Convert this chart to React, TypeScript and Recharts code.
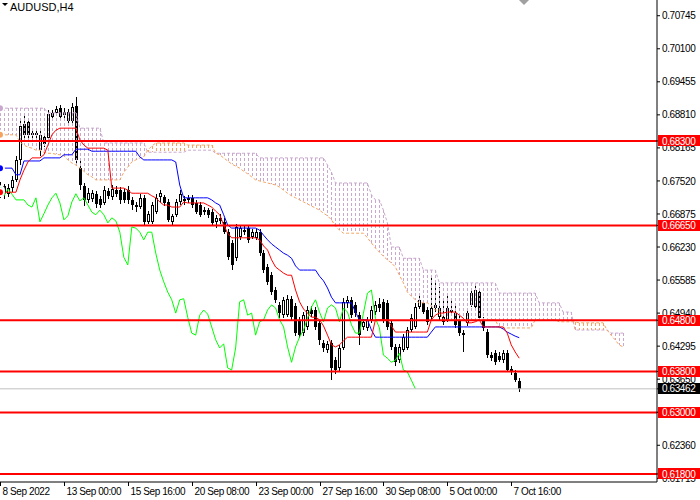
import { ComposedChart, Bar, Line, XAxis, YAxis, ReferenceLine } from 'recharts';

const WIDTH = 700;
const HEIGHT = 500;
const SLOTS = 165; // 131 H4 bars + 26 bars of forward cloud + empty space up to the price scale
const SHIFT = 26;
const Y_MIN = 0.61643;
const Y_MAX = 0.71052;
const FONT = '"Liberation Sans", Arial, sans-serif';
const THISTLE = '#c9a8ce';
const SANDY = '#f4a460';

const dateLabels = [
    '8 Sep 2022',
    '13 Sep 00:00',
    '15 Sep 16:00',
    '20 Sep 08:00',
    '23 Sep 00:00',
    '27 Sep 16:00',
    '30 Sep 08:00',
    '5 Oct 00:00',
    '7 Oct 16:00',
];

const priceTicks = [
    0.70745, 0.701, 0.69455, 0.6881, 0.68165, 0.6752, 0.66875, 0.6623, 0.65585, 0.6494, 0.64295,
    0.6365, 0.63005, 0.6236, 0.61715,
];
const levels = [0.683, 0.6665, 0.648, 0.638, 0.63, 0.618];
const lastPrice = 0.63462;

// AUDUSD H4 candles, 8 Sep 08:00 .. 10 Oct 00:00
const opens = [
    0.673, 0.6742, 0.6726, 0.6738, 0.6754, 0.6793, 0.6863, 0.6867, 0.6842, 0.6846,
    0.6812, 0.6838, 0.6836, 0.6877, 0.6885, 0.6894, 0.6881, 0.6869, 0.6869, 0.6898,
    0.6777, 0.6742, 0.6715, 0.6717, 0.6726, 0.6717, 0.6709, 0.6732, 0.6721, 0.6734,
    0.6734, 0.673, 0.6734, 0.6715, 0.6705, 0.6701, 0.6719, 0.6672, 0.6672, 0.6691,
    0.6721, 0.6721, 0.6711, 0.6672, 0.6686, 0.6711, 0.6717, 0.6715, 0.6719, 0.6709,
    0.6705, 0.6691, 0.6695, 0.6691, 0.6672, 0.668, 0.6672, 0.6652, 0.6631, 0.6601,
    0.6642, 0.6656, 0.666, 0.6642, 0.6641, 0.6652, 0.6611, 0.6584, 0.6568, 0.6539,
    0.651, 0.649, 0.649, 0.6522, 0.6508, 0.6481, 0.6455, 0.6467, 0.65, 0.65,
    0.6475, 0.6436, 0.6422, 0.6436, 0.6402, 0.6387, 0.6426, 0.6514, 0.652, 0.651,
    0.649, 0.6467, 0.6465, 0.6481, 0.6496, 0.6512, 0.6516, 0.6514, 0.6475, 0.6428,
    0.6402, 0.6422, 0.6426, 0.6461, 0.6467, 0.6506, 0.6514, 0.65, 0.6486, 0.6504,
    0.6486, 0.6486, 0.6481, 0.65, 0.6494, 0.6481, 0.6451, 0.6475, 0.651, 0.6506,
    0.6535, 0.6481, 0.6457, 0.6412, 0.6416, 0.641, 0.6402, 0.6416, 0.6385, 0.6377,
    0.6361,
];
const highs = [
    0.675, 0.6746, 0.6746, 0.6762, 0.6801, 0.6875, 0.6879, 0.6873, 0.6851, 0.6851,
    0.6849, 0.6844, 0.689, 0.689, 0.6898, 0.69, 0.6894, 0.6892, 0.6904, 0.6916,
    0.6793, 0.6748, 0.6738, 0.6734, 0.6732, 0.6723, 0.6742, 0.6738, 0.6744, 0.6742,
    0.674, 0.6736, 0.6742, 0.6721, 0.6711, 0.6727, 0.6725, 0.6693, 0.6711, 0.6727,
    0.6734, 0.6725, 0.6717, 0.6688, 0.6717, 0.6734, 0.6723, 0.6725, 0.6725, 0.6715,
    0.6711, 0.6701, 0.6699, 0.6697, 0.6686, 0.6688, 0.668, 0.6658, 0.6637, 0.6668,
    0.6666, 0.6664, 0.6666, 0.6658, 0.6658, 0.6658, 0.6617, 0.659, 0.6574, 0.6545,
    0.6516, 0.6525, 0.6529, 0.6527, 0.6514, 0.6486, 0.6496, 0.6508, 0.6508, 0.6506,
    0.6481, 0.6442, 0.644, 0.6442, 0.6408, 0.6432, 0.6524, 0.6527, 0.6525, 0.6516,
    0.6496, 0.6483, 0.6486, 0.6508, 0.6518, 0.6524, 0.6522, 0.652, 0.6481, 0.6434,
    0.6434, 0.6453, 0.6467, 0.6492, 0.6514, 0.6527, 0.652, 0.6506, 0.6564, 0.6555,
    0.6545, 0.6524, 0.6529, 0.6524, 0.651, 0.6488, 0.6461, 0.65, 0.6539, 0.6549,
    0.6543, 0.6486, 0.6463, 0.6418, 0.6422, 0.6418, 0.6422, 0.6422, 0.6391, 0.6383,
    0.6367,
];
const lows = [
    0.6719, 0.6717, 0.6721, 0.673, 0.675, 0.6783, 0.6834, 0.6836, 0.6836, 0.6828,
    0.6801, 0.6818, 0.6832, 0.6871, 0.6881, 0.6871, 0.6875, 0.6863, 0.6865, 0.6781,
    0.6734, 0.6703, 0.6709, 0.6711, 0.6699, 0.6699, 0.6705, 0.6717, 0.6715, 0.6721,
    0.6707, 0.6709, 0.6707, 0.6695, 0.6691, 0.6697, 0.6666, 0.6668, 0.6668, 0.6688,
    0.6709, 0.6703, 0.6672, 0.6666, 0.6682, 0.6705, 0.6705, 0.6709, 0.6699, 0.6688,
    0.6682, 0.6686, 0.668, 0.6664, 0.666, 0.6668, 0.6648, 0.6598, 0.6578, 0.6596,
    0.6637, 0.6646, 0.6631, 0.6639, 0.6637, 0.6605, 0.6572, 0.6549, 0.6529, 0.6514,
    0.6484, 0.6484, 0.6486, 0.6481, 0.6449, 0.6445, 0.6449, 0.6461, 0.6486, 0.6461,
    0.6432, 0.6418, 0.6416, 0.6363, 0.6375, 0.6379, 0.6422, 0.6504, 0.6484, 0.6486,
    0.6432, 0.6461, 0.6459, 0.6475, 0.649, 0.6496, 0.6475, 0.6461, 0.6422, 0.6391,
    0.6396, 0.6418, 0.6422, 0.6457, 0.6463, 0.6502, 0.6492, 0.6471, 0.6481, 0.6496,
    0.6481, 0.6471, 0.6477, 0.649, 0.6465, 0.6449, 0.6418, 0.6469, 0.6506, 0.6502,
    0.6481, 0.6459, 0.6406, 0.64, 0.6393, 0.6398, 0.6396, 0.6379, 0.6373, 0.6359,
    0.634,
];
const closes = [
    0.6742, 0.6726, 0.6738, 0.6754, 0.6793, 0.6859, 0.6842, 0.6842, 0.6846, 0.6842,
    0.6842, 0.6824, 0.6883, 0.6885, 0.6892, 0.6877, 0.6887, 0.6887, 0.6896, 0.6793,
    0.6744, 0.6715, 0.6728, 0.6728, 0.6707, 0.6705, 0.6734, 0.6723, 0.6736, 0.6726,
    0.6715, 0.6715, 0.6715, 0.6705, 0.6701, 0.6719, 0.6672, 0.6688, 0.6705, 0.6719,
    0.6728, 0.6709, 0.6676, 0.6684, 0.6711, 0.6727, 0.6713, 0.6719, 0.6705, 0.6691,
    0.6686, 0.6695, 0.6686, 0.667, 0.668, 0.6674, 0.6652, 0.6603, 0.6588, 0.6662,
    0.666, 0.6652, 0.6637, 0.6652, 0.6652, 0.6611, 0.6578, 0.6555, 0.6535, 0.652,
    0.6494, 0.652, 0.6522, 0.6486, 0.6455, 0.6451, 0.649, 0.65, 0.6492, 0.6467,
    0.6442, 0.6426, 0.6434, 0.6387, 0.6383, 0.6426, 0.6516, 0.652, 0.649, 0.6494,
    0.6451, 0.6477, 0.6481, 0.65, 0.651, 0.6504, 0.6481, 0.6467, 0.6428, 0.6398,
    0.6428, 0.6447, 0.6461, 0.6484, 0.6506, 0.652, 0.6496, 0.6477, 0.6504, 0.651,
    0.6504, 0.6477, 0.6504, 0.6496, 0.6471, 0.6455, 0.6455, 0.6494, 0.6533, 0.6539,
    0.6484, 0.6465, 0.6412, 0.6406, 0.6398, 0.6402, 0.6416, 0.6383, 0.6379, 0.6363,
    0.63462,
];

// Ichimoku
const tenkan = [
    0.673, 0.673, 0.673, 0.673, 0.673, 0.6754, 0.6773, 0.6789, 0.6797, 0.6797,
    0.6797, 0.6803, 0.6822, 0.6842, 0.6851, 0.6855, 0.6855, 0.6855, 0.6855, 0.6855,
    0.6832, 0.6822, 0.6816, 0.6816, 0.6816, 0.6816, 0.6816, 0.6812, 0.6738, 0.6738,
    0.6738, 0.6738, 0.6734, 0.6728, 0.6728, 0.6728, 0.6728, 0.6728, 0.6723, 0.6719,
    0.6711, 0.6705, 0.6705, 0.6701, 0.6701, 0.6701, 0.6711, 0.6709, 0.6709, 0.6709,
    0.6709, 0.6709, 0.6705, 0.6701, 0.6693, 0.6686, 0.6666, 0.665, 0.6641, 0.6641,
    0.6641, 0.6641, 0.6641, 0.6641, 0.6641, 0.6637, 0.6625, 0.6617, 0.6598, 0.6584,
    0.6578, 0.6572, 0.6568, 0.6568, 0.6539, 0.6516, 0.6502, 0.6494, 0.6486, 0.6486,
    0.6481, 0.6469, 0.6451, 0.6432, 0.6428, 0.6432, 0.644, 0.6447, 0.6447, 0.6447,
    0.6447, 0.6447, 0.6447, 0.6447, 0.6481, 0.6481, 0.6481, 0.6481, 0.6469, 0.6457,
    0.6457, 0.6457, 0.6457, 0.6457, 0.6457, 0.6457, 0.6457, 0.6457, 0.6481, 0.649,
    0.6494, 0.6494, 0.6496, 0.6496, 0.6496, 0.649, 0.6484, 0.6475, 0.6475, 0.6477,
    0.6481, 0.6467, 0.6467, 0.6467, 0.6467, 0.6467, 0.6467, 0.6455, 0.6432, 0.6418,
    0.6406,
];
const kijun = [
    0.6777, 0.6777, 0.6777, 0.6777, 0.6764, 0.6764, 0.6791, 0.6791, 0.6791, 0.6791,
    0.6791, 0.6797, 0.6797, 0.6797, 0.6797, 0.6797, 0.6803, 0.6803, 0.6803, 0.6814,
    0.6814, 0.6814, 0.6814, 0.681, 0.681, 0.681, 0.681, 0.681, 0.681, 0.681,
    0.681, 0.681, 0.681, 0.681, 0.681, 0.6799, 0.6793, 0.6793, 0.6793, 0.6793,
    0.6793, 0.6793, 0.6793, 0.6793, 0.6789, 0.6744, 0.6719, 0.6719, 0.6719, 0.6719,
    0.6719, 0.6719, 0.6719, 0.6715, 0.6709, 0.6705, 0.6686, 0.6666, 0.666, 0.666,
    0.666, 0.666, 0.666, 0.666, 0.666, 0.6656, 0.6646, 0.6637, 0.6629, 0.6623,
    0.6617, 0.6611, 0.6607, 0.6601, 0.6586, 0.6578, 0.6578, 0.6578, 0.6578, 0.6578,
    0.6566, 0.6557, 0.6543, 0.6525, 0.6514, 0.6514, 0.6514, 0.6514, 0.6514, 0.6496,
    0.6481, 0.6481, 0.6481, 0.6461, 0.6447, 0.6447, 0.6447, 0.6447, 0.6447, 0.6447,
    0.6447, 0.6447, 0.6447, 0.6447, 0.6447, 0.6447, 0.6447, 0.6447, 0.6457, 0.6467,
    0.6467, 0.6467, 0.6467, 0.6467, 0.6467, 0.6467, 0.6467, 0.6467, 0.6467, 0.6467,
    0.6467, 0.6467, 0.6467, 0.6467, 0.6467, 0.6467, 0.6463, 0.6457, 0.6453, 0.6449,
    0.6446,
];
const spanA = [
    0.6842, 0.6842, 0.6842, 0.6842, 0.6842, 0.6828, 0.6822, 0.6818, 0.6816, 0.6812,
    0.6812, 0.6808, 0.6806, 0.6806, 0.6804, 0.6803, 0.6801, 0.6793, 0.6787, 0.6783,
    0.6777, 0.6771, 0.6764, 0.676, 0.6754, 0.6754, 0.6754, 0.6754, 0.6754, 0.6754,
    0.6754, 0.6769, 0.6779, 0.6789, 0.6793, 0.6797, 0.6799, 0.6812, 0.682, 0.6826,
    0.6826, 0.6826, 0.6826, 0.6826, 0.6826, 0.6826, 0.6826, 0.6822, 0.6822, 0.6822,
    0.6822, 0.6822, 0.6822, 0.6822, 0.6806, 0.6803, 0.6797, 0.6791, 0.6785, 0.6781,
    0.6777, 0.6771, 0.6766, 0.676, 0.6754, 0.6752, 0.675, 0.6748, 0.6746, 0.6744,
    0.674, 0.6734, 0.6728, 0.6723, 0.6719, 0.6715, 0.6711, 0.6707, 0.6703, 0.6699,
    0.6695, 0.6689, 0.6684, 0.6676, 0.6664, 0.6656, 0.665, 0.665, 0.665, 0.665,
    0.665, 0.665, 0.6641, 0.6631, 0.6621, 0.6613, 0.6605, 0.6598, 0.6592, 0.6584,
    0.6568, 0.6553, 0.6535, 0.6527, 0.652, 0.6514, 0.6514, 0.6514, 0.6508, 0.65,
    0.65, 0.6481, 0.6481, 0.6481, 0.6481, 0.6481, 0.6481, 0.6481, 0.6481, 0.6481,
    0.6481, 0.6481, 0.6481, 0.6481, 0.6481, 0.6465, 0.6465, 0.6465, 0.6465, 0.6465,
    0.6465, 0.6465, 0.6465, 0.6465, 0.6481, 0.6481, 0.6481, 0.6481, 0.6481, 0.6481,
    0.6477, 0.6477, 0.6477, 0.6477, 0.6477, 0.6475, 0.6475, 0.6475, 0.6475, 0.6475,
    0.6475, 0.6475, 0.6461, 0.6451, 0.6442, 0.6432, 0.6428,
];
const spanB = [
    0.6894, 0.6894, 0.6894, 0.6894, 0.6894, 0.6894, 0.6894, 0.6894, 0.6894, 0.6894,
    0.6894, 0.6894, 0.6885, 0.6885, 0.6885, 0.6885, 0.6885, 0.6885, 0.6885, 0.6885,
    0.6855, 0.6855, 0.6855, 0.6855, 0.6855, 0.6855, 0.6826, 0.6826, 0.6826, 0.6826,
    0.6826, 0.6826, 0.6826, 0.6826, 0.6826, 0.6826, 0.6826, 0.6808, 0.6808, 0.6808,
    0.6808, 0.6808, 0.6808, 0.6808, 0.6808, 0.6808, 0.6808, 0.6812, 0.6812, 0.6812,
    0.6812, 0.6812, 0.6812, 0.6812, 0.6806, 0.6806, 0.6806, 0.6806, 0.6806, 0.6806,
    0.6806, 0.6806, 0.6806, 0.6806, 0.6806, 0.6797, 0.6797, 0.6797, 0.6797, 0.6797,
    0.6797, 0.6797, 0.6797, 0.6797, 0.6797, 0.6797, 0.6797, 0.6797, 0.6797, 0.6797,
    0.6797, 0.6797, 0.6783, 0.6769, 0.6748, 0.6748, 0.6748, 0.6748, 0.6748, 0.6748,
    0.6748, 0.6748, 0.6748, 0.6725, 0.6715, 0.6715, 0.6695, 0.667, 0.6623, 0.6623,
    0.6623, 0.6601, 0.6601, 0.6601, 0.6601, 0.6601, 0.6578, 0.6578, 0.6578, 0.6578,
    0.6553, 0.6553, 0.6553, 0.6553, 0.6553, 0.6553, 0.6553, 0.6553, 0.6553, 0.6553,
    0.6553, 0.6553, 0.6553, 0.6553, 0.6553, 0.6533, 0.6533, 0.6533, 0.6533, 0.6533,
    0.6533, 0.6533, 0.6533, 0.6533, 0.6533, 0.6514, 0.6514, 0.6514, 0.6514, 0.6514,
    0.6514, 0.6496, 0.6496, 0.6496, 0.6461, 0.6461, 0.6461, 0.6461, 0.6461, 0.6461,
    0.6461, 0.6461, 0.6461, 0.6455, 0.6455, 0.6455, 0.6455,
];

const rows = Array.from({ length: SLOTS }, (_, i) => {
    // eslint-disable-next-line @typescript-eslint/no-explicit-any
    const row: any = { i };
    if (i < closes.length) {
        row.o = opens[i];
        row.c = closes[i];
        row.candle = [lows[i], highs[i]];
        row.tenkan = tenkan[i];
        row.kijun = kijun[i];
    }
    if (i + SHIFT < closes.length) row.chikou = closes[i + SHIFT];
    if (i < spanA.length) {
        row.spanA = spanA[i];
        row.spanB = spanB[i];
        if (spanA[i] !== spanB[i]) {
            row.cloud = [Math.min(spanA[i], spanB[i]), Math.max(spanA[i], spanB[i])];
        }
    }
    return row;
});

// eslint-disable-next-line @typescript-eslint/no-explicit-any
function Candle(props: any) {
    const { x, width, payload } = props;
    if (!payload || payload.candle == null) return null;
    let { y, height } = props;
    if (height < 0) {
        y += height;
        height = -height;
    }
    const [lo, hi] = payload.candle;
    const k = hi > lo ? height / (hi - lo) : 0;
    const cx = Math.round(x + width / 2);
    const top = Math.round(y + (hi - Math.max(payload.o, payload.c)) * k);
    const bot = Math.round(y + (hi - Math.min(payload.o, payload.c)) * k);
    const bh = Math.max(1, bot - top);
    const up = payload.c > payload.o;
    return (
        <g shapeRendering="crispEdges">
            <line x1={cx + 0.5} x2={cx + 0.5} y1={y} y2={y + height} stroke="#000" />
            {up ? (
                <rect x={cx - 0.5} y={top + 0.5} width={2} height={Math.max(1, bh - 1)} fill="#fff" stroke="#000" />
            ) : (
                <rect x={cx - 1} y={top} width={3} height={bh} fill="#000" />
            )}
        </g>
    );
}

// the cloud is hatched with one dotted line per bar, drawn over the candles as the terminal does
// eslint-disable-next-line @typescript-eslint/no-explicit-any
function Hatch(props: any) {
    const { x, y, width, height, payload } = props;
    if (!payload || payload.cloud == null) return null;
    const cx = Math.round(x + width / 2) + 0.5;
    const color = payload.spanA > payload.spanB ? SANDY : THISTLE;
    return (
        <line
            x1={cx}
            x2={cx}
            y1={Math.round(y)}
            y2={Math.round(y + Math.abs(height))}
            stroke={color}
            strokeDasharray="3 2"
            shapeRendering="crispEdges"
        />
    );
}

// eslint-disable-next-line @typescript-eslint/no-explicit-any
function PriceTick(props: any) {
    const { x, y, payload } = props;
    const v = payload.value as number;
    const text = v.toFixed(5);
    const isLevel = levels.includes(v);
    const isLast = v === lastPrice;
    if (isLevel || isLast) {
        return (
            <g>
                <rect
                    x={x - 4}
                    y={y - 5.5}
                    width={44}
                    height={11}
                    fill={isLast ? '#000' : '#ff0000'}
                    shapeRendering="crispEdges"
                />
                <text x={x} y={y} dy={3.6} fill="#fff" fontSize={10} fontFamily={FONT} letterSpacing={-0.4}>
                    {text}
                </text>
            </g>
        );
    }
    return (
        <text x={x} y={y} dy={3.6} fill="#000" fontSize={10} fontFamily={FONT} letterSpacing={-0.4}>
            {text}
        </text>
    );
}

// eslint-disable-next-line @typescript-eslint/no-explicit-any
function DateTick(props: any) {
    const { x, y, payload } = props;
    const label = dateLabels[Number(payload.value) / 16];
    if (!label) return null;
    const tx = Math.round(x) + 0.5;
    return (
        <g>
            <line x1={tx} x2={tx} y1={y} y2={y + 4} stroke="#000" shapeRendering="crispEdges" />
            <text x={tx + 2} y={y + 12.5} fill="#000" fontSize={10} fontFamily={FONT} letterSpacing={-0.4}>
                {label}
            </text>
        </g>
    );
}

export default function App() {
    return (
        <div style={{ position: 'absolute', left: 0, top: 0, width: WIDTH, height: HEIGHT, background: '#fff' }}>
            <ComposedChart
                width={WIDTH}
                height={HEIGHT}
                data={rows}
                margin={{ top: 0, right: 0, bottom: 0, left: -2 }}
            >
                <XAxis
                    dataKey="i"
                    type="category"
                    interval={15}
                    height={18}
                    tickLine={false}
                    tickSize={0}
                    tickMargin={0}
                    axisLine={{ stroke: '#000' }}
                    tick={DateTick}
                />
                <XAxis xAxisId="cloud" dataKey="i" type="category" hide />
                <YAxis
                    orientation="right"
                    type="number"
                    width={43}
                    domain={[Y_MIN, Y_MAX]}
                    allowDataOverflow
                    ticks={[...priceTicks, ...levels, lastPrice]}
                    interval={0}
                    tickSize={3}
                    tickMargin={2}
                    axisLine={{ stroke: '#000' }}
                    tickLine={{ stroke: '#000' }}
                    tick={PriceTick}
                />
                <Bar dataKey="candle" shape={Candle} isAnimationActive={false} />
                <Bar xAxisId="cloud" dataKey="cloud" shape={Hatch} isAnimationActive={false} />
                <Line
                    dataKey="spanB"
                    stroke={THISTLE}
                    strokeDasharray="3 2"
                    strokeWidth={1}
                    dot={false}
                    isAnimationActive={false}
                />
                <Line
                    dataKey="spanA"
                    stroke={SANDY}
                    strokeDasharray="3 2"
                    strokeWidth={1}
                    dot={false}
                    isAnimationActive={false}
                />
                <Line dataKey="chikou" stroke="#00ff00" strokeWidth={1} dot={false} isAnimationActive={false} />
                <Line dataKey="kijun" stroke="#0000ff" strokeWidth={1} dot={false} isAnimationActive={false} />
                <Line dataKey="tenkan" stroke="#ff0000" strokeWidth={1} dot={false} isAnimationActive={false} />
                <ReferenceLine y={lastPrice} stroke="#c0c0c0" strokeWidth={1} />
                {levels.map((lv) => (
                    <ReferenceLine key={lv} y={lv} stroke="#ff0000" strokeWidth={2} />
                ))}
            </ComposedChart>
            <svg
                width={WIDTH}
                height={20}
                style={{ position: 'absolute', left: 0, top: 0, pointerEvents: 'none' }}
            >
                <polygon points="2,3 8,3 5,6" fill="#000" />
                <text x={10} y={11} fontSize={11} fontFamily={FONT} fill="#000">
                    AUDUSD,H4
                </text>
                <polygon points="519,0 529,0 524,5" fill="#a0a0a0" />
            </svg>
        </div>
    );
}
